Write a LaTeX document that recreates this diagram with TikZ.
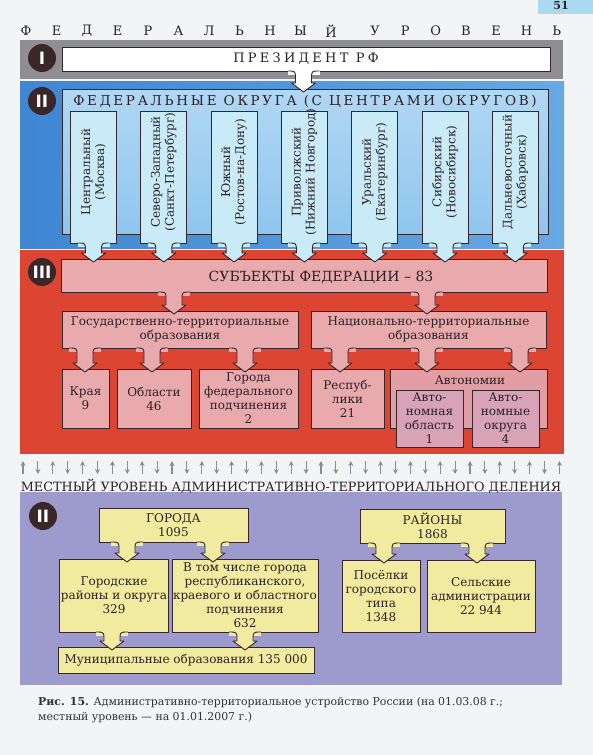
\documentclass[tikz,border=0pt]{standalone}
\usepackage{fontspec}
\setmainfont{DejaVu Serif}
\setsansfont{DejaVu Sans}
\usetikzlibrary{calc,arrows.meta}

\definecolor{pagecol}{HTML}{F3F4F6}
\definecolor{linecol}{HTML}{35262E}
\definecolor{txtcol}{HTML}{2B2126}
\definecolor{graycol}{HTML}{8E8E93}
\definecolor{bluecolA}{HTML}{3F86D3}
\definecolor{bluecolB}{HTML}{66A9E3}
\definecolor{frmcol}{HTML}{8FC6EE}
\definecolor{skycol}{HTML}{C9EBF8}
\definecolor{redcol}{HTML}{DB4531}
\definecolor{pinkcol}{HTML}{E8AAAD}
\definecolor{autocol}{HTML}{E29EA4}
\definecolor{mauvecol}{HTML}{D8A3B7}
\definecolor{violcol}{HTML}{9D9BCD}
\definecolor{yelcol}{HTML}{F0EB9F}
\definecolor{circcol}{HTML}{3A2828}
\definecolor{arrcol}{HTML}{8C8A98}
\definecolor{numcol}{HTML}{A9DAF2}
\definecolor{captcol}{HTML}{333036}

\tikzset{
  bx/.style={draw=linecol, line width=0.9pt, outer sep=0pt, inner sep=1pt,
    align=center, text=txtcol, font=\fontsize{12}{14}\selectfont},
  bluebx/.style={bx, fill=skycol},
  pinkbx/.style={bx, fill=pinkcol},
  yelbx/.style={bx, fill=yelcol},
  okrtxt/.style={align=center, text=txtcol, inner sep=0pt, font=\fontsize{12}{14}\selectfont},
  plain/.style={text=txtcol, inner sep=0pt},
  numcirc/.style={circle, fill=circcol, minimum size=28pt, inner sep=0pt, text=white,
    font=\sffamily\bfseries\fontsize{17}{17}\selectfont},
  arrline/.style={draw=linecol, line width=0.9pt, line join=round},
  updn/.style={draw=arrcol, line width=1.1pt, -{Stealth[length=5pt,width=5pt]}},
}

% brace-like arrow: fill, from node, to node, x position
\newcommand\brarrow[4]{%
  \fill[#1] let \p1=(#2.south) in ({#4*1pt-16pt},{\y1+0.8pt}) rectangle ({#4*1pt+16pt},{\y1-4pt});
  \draw[arrline, fill=#1] let \p1=(#2.south), \p2=(#3.north) in
    ({#4*1pt-16pt},\y1) .. controls ({#4*1pt-8pt},\y1) .. ({#4*1pt-8pt},{\y1-8pt})
    -- ({#4*1pt-8pt},{\y2+6pt}) -- ({#4*1pt-12pt},{\y2+6pt}) -- ({#4*1pt},{\y2-3pt})
    -- ({#4*1pt+12pt},{\y2+6pt}) -- ({#4*1pt+8pt},{\y2+6pt}) -- ({#4*1pt+8pt},{\y1-8pt})
    .. controls ({#4*1pt+8pt},\y1) .. ({#4*1pt+16pt},\y1);
}

\begin{document}
\begin{tikzpicture}[x=1pt, y=-1pt]
  \fill[pagecol] (0,0) rectangle (593,755);
  \useasboundingbox (0,0) rectangle (593,755);

  % page number
  \fill[numcol] (538,0) rectangle (593,14);
  \node[plain, font=\bfseries\fontsize{11}{11}\selectfont] (pg) at (561,5) {51};

  % federal level heading
  \foreach \ch [count=\i from 0] in {Ф,Е,Д,Е,Р,А,Л,Ь,Н,Ы,Й}
    \node[plain, font=\fontsize{13}{13}\selectfont] (fl\i) at (26+30.5*\i,31) {\ch};
  \foreach \ch [count=\i from 0] in {У,Р,О,В,Е,Н,Ь}
    \node[plain, font=\fontsize{13}{13}\selectfont] (ul\i) at (375+30.3*\i,31) {\ch};

  % bands
  \fill[graycol] (20,40) rectangle (563,79);
  \shade[left color=bluecolA, right color=bluecolB] (20,81) rectangle (564,248);
  \fill[redcol] (20,250) rectangle (564,454);
  \fill[violcol] (20,492) rectangle (562,685);

  % level I
  \node[numcirc] (n1) at (42,58) {I};
  \node[bx, fill=white, minimum width=488pt, minimum height=24pt,
    font=\fontsize{13}{13}\selectfont\addfontfeature{LetterSpace=25}] (pres) at (306,59) {ПРЕЗИДЕНТ РФ};

  % level II
  \node[numcirc] (n2) at (42,101) {II};
  \node[bx, top color=frmcol!70!white, bottom color=frmcol, minimum width=486pt, minimum height=145pt] (fo) at (305,161.5) {};
  \node[plain, font=\fontsize{13.5}{13.5}\selectfont\addfontfeature{LetterSpace=20}] (fot) at (305,101)
    {ФЕДЕРАЛЬНЫЕ ОКРУГА (С ЦЕНТРАМИ ОКРУГОВ)};
  \foreach \txt [count=\i] in {{Центральный\\(Москва)}, {Северо-Западный\\(Санкт-Петербург)},
      {Южный\\(Ростов-на-Дону)}, {Приволжский\\(Нижний Новгород)}, {Уральский\\(Екатеринбург)},
      {Сибирский\\(Новосибирск)}, {Дальневосточный\\(Хабаровск)}} {
    \pgfmathsetmacro\cx{23.2+70.3*\i}
    \node[bluebx, minimum width=46pt, minimum height=132pt] (ok\i) at (\cx,177) {};
    \node[okrtxt, rotate=90] (okt\i) at (\cx,172) {\txt};
  }

  % level III
  \node[numcirc] (n3) at (42,272) {III};
  \node[pinkbx, minimum width=486pt, minimum height=33pt] (subj) at (304,275.5) {};
  \node[plain, font=\fontsize{14}{14}\selectfont] (subjt) at (321,277) {СУБЪЕКТЫ ФЕДЕРАЦИИ – 83};
  \node[pinkbx, minimum width=236pt, minimum height=37pt] (gos) at (180,329.5)
    {Государственно-территориальные\\образования};
  \node[pinkbx, minimum width=235pt, minimum height=37pt] (nac) at (428.5,329.5)
    {Национально-территориальные\\образования};
  \node[pinkbx, minimum width=47pt, minimum height=59pt] (kraya) at (85.5,398.5) {Края\\9};
  \node[pinkbx, minimum width=74pt, minimum height=59pt] (obl) at (154,398.5) {Области\\46};
  \node[pinkbx, minimum width=99pt, minimum height=59pt] (gfp) at (248.5,398.5)
    {Города\\федерального\\подчинения\\2};
  \node[pinkbx, minimum width=73pt, minimum height=59pt] (resp) at (347.5,398.5) {Респуб-\\лики\\21};
  \node[pinkbx, fill=autocol, minimum width=157pt, minimum height=59pt] (avt) at (468.5,398.5) {};
  \node[plain, font=\fontsize{12}{14}\selectfont] (avtt) at (470,380) {Автономии};
  \node[bx, fill=mauvecol, minimum width=67pt, minimum height=57pt] (ao) at (429.5,418.5)
    {Авто-\\номная\\область\\1};
  \node[bx, fill=mauvecol, minimum width=67pt, minimum height=57pt] (aok) at (505.5,418.5)
    {Авто-\\номные\\округа\\4};

  % arrows of the federal level
  \brarrow{white}{pres}{fo}{303.5}
  \foreach \i in {1,...,7} {
    \pgfmathsetmacro\cx{23.2+70.3*\i}
    \brarrow{skycol}{ok\i}{subj}{\cx}
  }
  \brarrow{pinkcol}{subj}{gos}{174}
  \brarrow{pinkcol}{subj}{nac}{427}
  \brarrow{pinkcol}{gos}{kraya}{85}
  \brarrow{pinkcol}{gos}{obl}{152}
  \brarrow{pinkcol}{gos}{gfp}{245}
  \brarrow{pinkcol}{nac}{resp}{340}
  \brarrow{pinkcol}{nac}{avt}{427}
  \brarrow{pinkcol}{nac}{avt}{520}

  % up and down arrows
  \foreach \i in {0,...,36} {
    \ifodd\i
      \draw[updn] (23+14.9*\i,461) -- (23+14.9*\i,474);
    \else
      \draw[updn] (23+14.9*\i,474) -- (23+14.9*\i,461);
    \fi
  }
  \node[plain, font=\fontsize{12.8}{12.8}\selectfont] (loc) at (291,486)
    {МЕСТНЫЙ УРОВЕНЬ АДМИНИСТРАТИВНО-ТЕРРИТОРИАЛЬНОГО ДЕЛЕНИЯ};

  % local level
  \node[numcirc] (n4) at (43,516) {II};
  \node[yelbx, minimum width=149pt, minimum height=34pt] (gor) at (173.5,525) {ГОРОДА\\1095};
  \node[yelbx, minimum width=106pt, minimum height=73pt] (gorr) at (114,595.5)
    {Городские\\районы и округа\\329};
  \node[yelbx, minimum width=146pt, minimum height=73pt] (vtch) at (245,595.5)
    {В том числе города\\республиканского,\\краевого и областного\\подчинения\\632};
  \node[yelbx, minimum width=256pt, minimum height=26pt] (mun) at (186,660)
    {Муниципальные образования 135 000};
  \node[yelbx, minimum width=145pt, minimum height=34pt] (ray) at (432.5,526) {РАЙОНЫ\\1868};
  \node[yelbx, minimum width=78pt, minimum height=72pt] (pos) at (381,596)
    {Посёлки\\городского\\типа\\1348};
  \node[yelbx, minimum width=108pt, minimum height=72pt] (sel) at (481,596)
    {Сельские\\администрации\\22 944};

  \brarrow{yelcol}{gor}{gorr}{127}
  \brarrow{yelcol}{gor}{vtch}{213}
  \brarrow{yelcol}{gorr}{mun}{112}
  \brarrow{yelcol}{vtch}{mun}{245}
  \brarrow{yelcol}{ray}{pos}{384}
  \brarrow{yelcol}{ray}{sel}{477}

  % caption
  \node[plain, text=captcol, anchor=north west, align=left, font=\fontsize{10.9}{15}\selectfont] (capt) at (38,697)
    {\textbf{Рис. 15.} Административно-территориальное устройство России (на 01.03.08 г.;\\
     местный уровень — на 01.01.2007 г.)};
\end{tikzpicture}
\end{document}
